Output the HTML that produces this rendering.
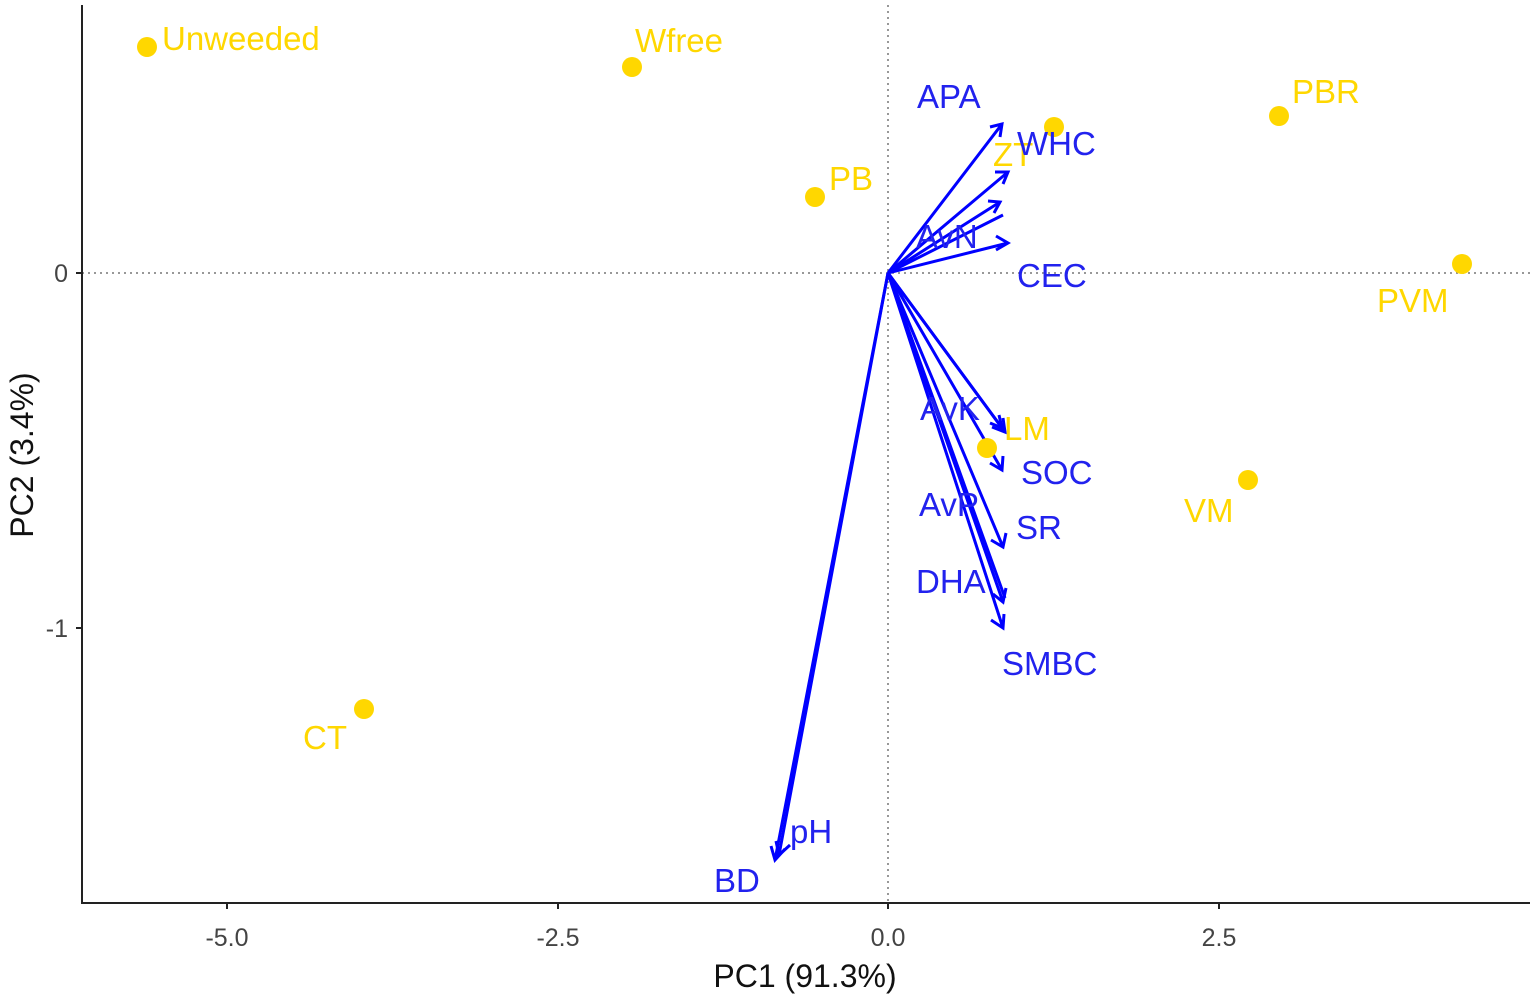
<!DOCTYPE html>
<html><head><style>body{margin:0;background:#fff}svg{display:block}</style></head><body>
<svg width="1535" height="1003" xmlns="http://www.w3.org/2000/svg" font-family="Liberation Sans, sans-serif">
<line x1="888" y1="5" x2="888" y2="903" stroke="#777" stroke-dasharray="2,4" stroke-width="1.5"/>
<line x1="82" y1="273" x2="1530" y2="273" stroke="#777" stroke-dasharray="2,4" stroke-width="1.5"/>
<g stroke="#0000ff" stroke-width="3" fill="none">
<path d="M888,273 L1002,124 M990,127 L1002,124 L1000,137"/>
<path d="M888,273 L1008,172 M995,172 L1008,172 L1003,184"/>
<path d="M888,273 L1000,202 M988,201 L1000,202 L994,213"/>
<path d="M888,273 L1003,215"/>
<path d="M888,273 L1008,243 M996,236 L1008,243 L996,250"/>
<path d="M888,273 L1005,432 M1003,418 L1005,432 L992,427"/>
<path d="M888,273 L1002,428 M999,415 L1002,428 L990,423"/>
<path d="M888,273 L1002,470 M1003,456 L1002,470 L990,463"/>
<path d="M888,273 L1003,547 M1006,533 L1003,547 L991,540"/>
<path d="M888,273 L1003,602 M1006,588 L1003,602 L993,594"/>
<path d="M888,273 L1005,598"/>
<path d="M888,273 L1003,628 M1004,614 L1003,628 L991,620"/>
<path d="M888,273 L775,860 M771,846 L775,860 L785,849"/>
<path d="M888,273 L779,855 M776,841 L779,855 L790,845"/>
</g>
<g fill="#FFD700">
<circle cx="147" cy="47" r="10"/><circle cx="632" cy="67" r="10"/><circle cx="815" cy="197" r="10"/>
<circle cx="1054" cy="127" r="10"/><circle cx="1279" cy="116" r="10"/><circle cx="1462" cy="264" r="10"/>
<circle cx="987" cy="448" r="10"/><circle cx="1248" cy="480" r="10"/><circle cx="364" cy="709" r="10"/>
</g>
<g fill="#FFD700" font-size="33">
<text x="162" y="50">Unweeded</text><text x="635" y="52">Wfree</text><text x="829" y="190">PB</text>
<text x="1292" y="103">PBR</text><text x="1377" y="312">PVM</text><text x="1004" y="440">LM</text>
<text x="1184" y="522">VM</text><text x="303" y="749">CT</text><text x="993" y="166">ZT</text>
</g>
<g fill="#2222ee" font-size="33">
<text x="917" y="108">APA</text><text x="1017" y="155">WHC</text><text x="916" y="248">AvN</text>
<text x="1017" y="287">CEC</text><text x="920" y="420">AvK</text><text x="1021" y="484">SOC</text>
<text x="919" y="516">AvP</text><text x="1016" y="539">SR</text><text x="916" y="593">DHA</text>
<text x="1002" y="675">SMBC</text><text x="790" y="843">pH</text><text x="714" y="892">BD</text>
</g>
<line x1="82" y1="5" x2="82" y2="904" stroke="#222" stroke-width="2"/>
<line x1="81" y1="903" x2="1530" y2="903" stroke="#222" stroke-width="2"/>
<g stroke="#222" stroke-width="2">
<line x1="76" y1="273" x2="82" y2="273"/><line x1="76" y1="628" x2="82" y2="628"/>
<line x1="227" y1="903" x2="227" y2="909"/><line x1="558" y1="903" x2="558" y2="909"/>
<line x1="888" y1="903" x2="888" y2="909"/><line x1="1219" y1="903" x2="1219" y2="909"/>
</g>
<g fill="#444" font-size="25">
<text x="68" y="282" text-anchor="end">0</text><text x="68" y="637" text-anchor="end">-1</text>
<g text-anchor="middle"><text x="227" y="946">-5.0</text><text x="558" y="946">-2.5</text><text x="888" y="946">0.0</text><text x="1219" y="946">2.5</text></g>
</g>
<text x="805" y="987" text-anchor="middle" font-size="32" fill="#111">PC1 (91.3%)</text>
<text transform="translate(33,455) rotate(-90)" text-anchor="middle" font-size="32" fill="#111">PC2 (3.4%)</text>
</svg>
</body></html>
